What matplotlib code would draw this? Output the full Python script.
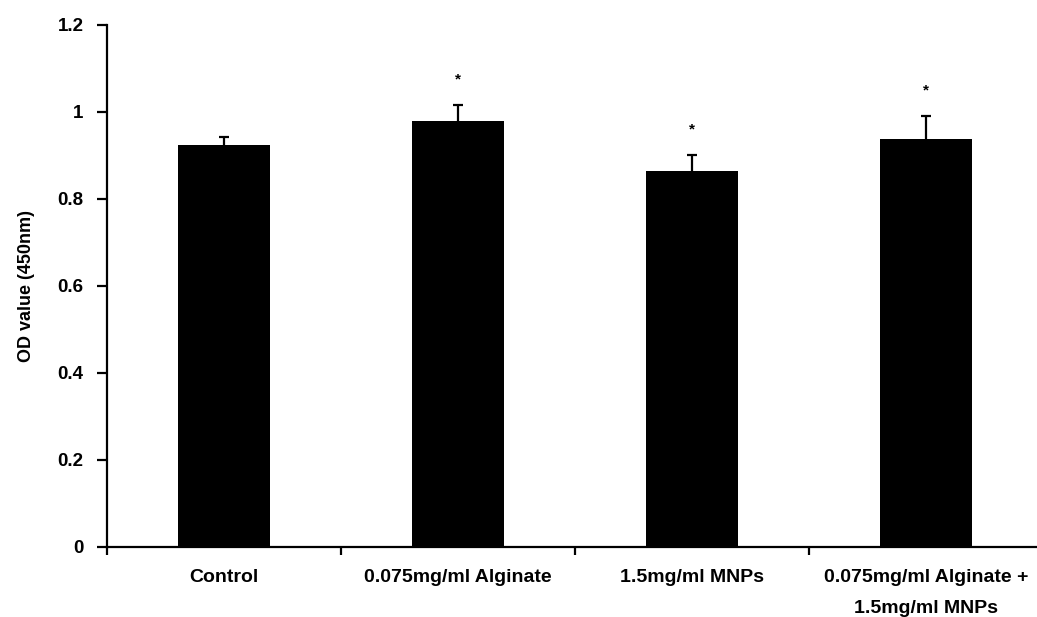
import numpy as np
import matplotlib.pyplot as plt

plt.rcParams['font.family'] = ['Liberation Sans', 'DejaVu Sans']
plt.rcParams['font.weight'] = 'bold'

groups = ['Control', '0.075mg/ml Alginate', '1.5mg/ml MNPs', '0.075mg/ml Alginate +\n1.5mg/ml MNPs']
od = [0.924, 0.979, 0.865, 0.938]
sd = [0.019, 0.037, 0.036, 0.053]
signif = ['', '*', '*', '*']

fig = plt.figure(figsize=(10.37, 6.17), dpi=100)
ax = fig.add_axes([0.1032, 0.1135, 0.9026, 0.846])

x = np.arange(len(groups))
ax.bar(x, od, width=0.39, color='black', zorder=2)
# upper error only: hide the cap at the bar top
_, caps, _ = ax.errorbar(x, od, yerr=[np.zeros(len(sd)), sd], fmt='none', ecolor='black',
                         elinewidth=1.6, capsize=3.6, capthick=1.6, zorder=1)
caps[0].set_visible(False)
for xi, v, e, s in zip(x, od, sd, signif):
    if s:
        ax.text(xi, v + e + 0.058, s, ha='center', va='center', fontsize=11, fontweight='bold')

ax.set_xlim(-0.5, 3.5)
ax.set_ylim(0, 1.2)
ax.set_yticks(np.arange(0, 1.21, 0.2))
ax.set_yticklabels(['0', '0.2', '0.4', '0.6', '0.8', '1', '1.2'])
ax.set_ylabel('OD value (450nm)', fontsize=13, fontweight='bold', labelpad=16)

ax.set_xticks([-0.5, 0.5, 1.5, 2.5])
ax.set_xticklabels([])
ax.set_xticks(x, minor=True)
ax.set_xticklabels(groups, minor=True, fontsize=14, fontweight='bold', linespacing=2.1)
ax.tick_params(axis='x', which='minor', length=0, pad=16)
ax.tick_params(axis='x', which='major', direction='out', length=6, width=1.6)
ax.tick_params(axis='y', direction='out', length=7, width=1.6, labelsize=13.5, pad=10)
for lab in ax.get_yticklabels():
    lab.set_fontweight('bold')

for side in ['top', 'right']:
    ax.spines[side].set_visible(False)
for side in ['left', 'bottom']:
    ax.spines[side].set_linewidth(1.6)

fig.savefig('out.png', dpi=100)
